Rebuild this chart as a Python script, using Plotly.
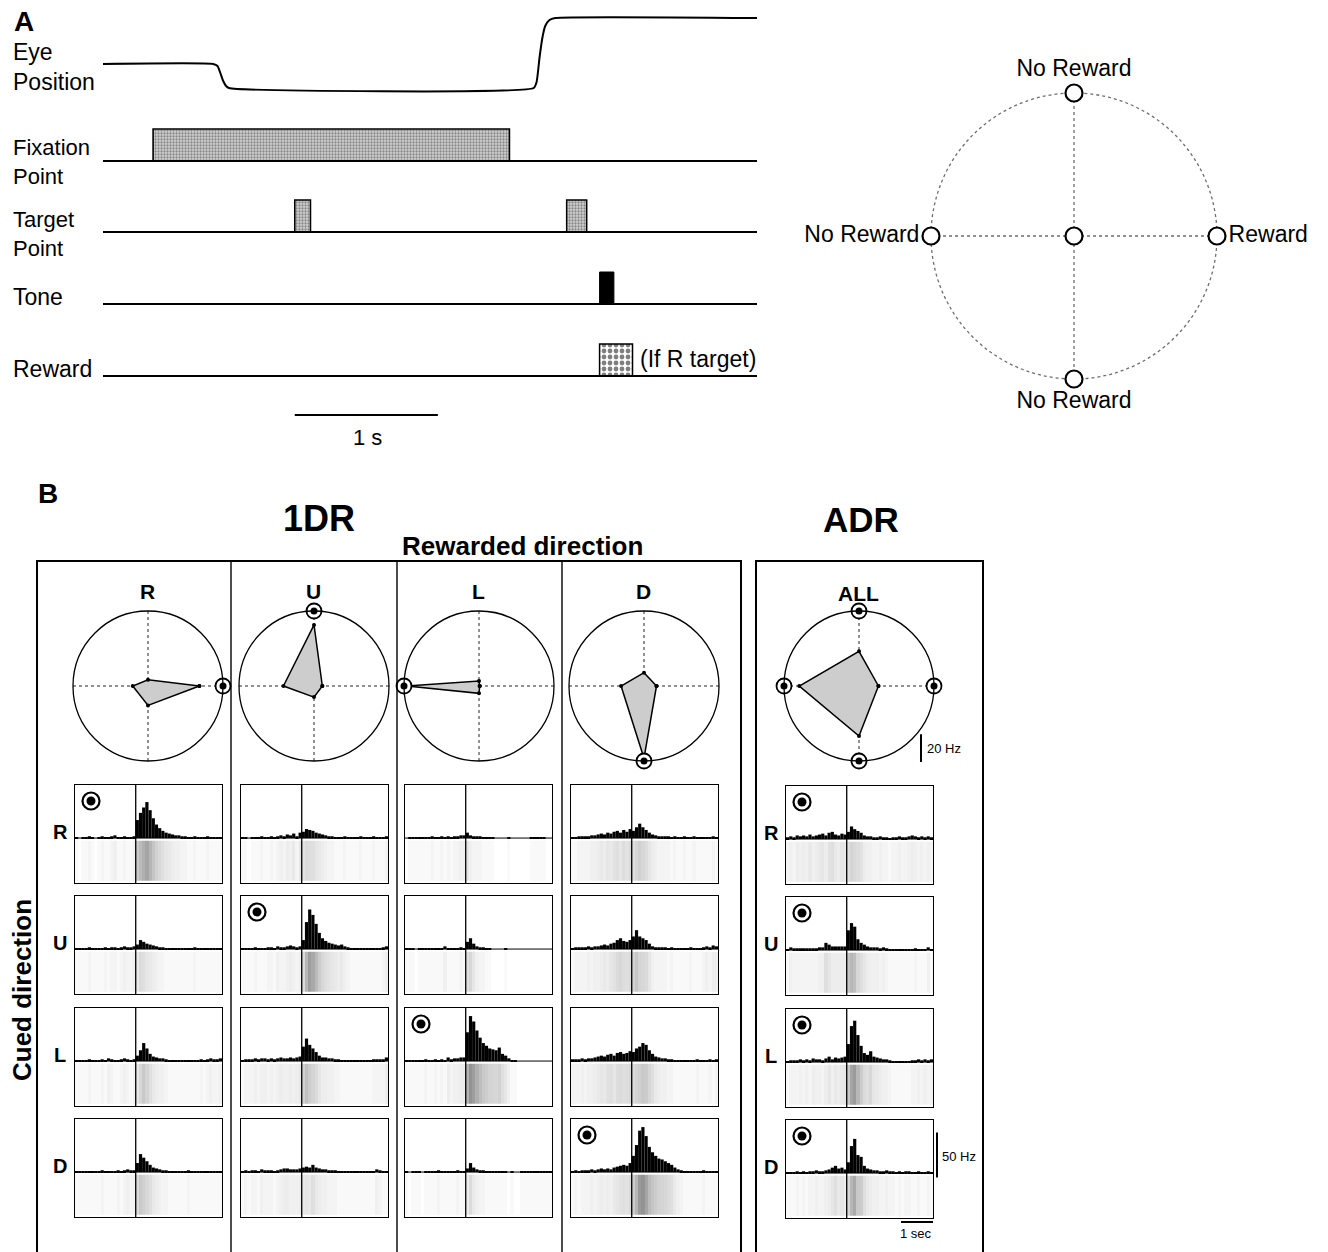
import numpy as np
import plotly.graph_objects as go

W, H = 1328, 1252
FONT = "Liberation Sans, Arial, Helvetica, sans-serif"

# ===================== DATA =====================
# ---- Panel A: task events (seconds from start of trace) ----
trace_end = 4.57
fix_on, fix_off = 0.35, 2.84
target_on = [1.34, 3.24]
target_dur = [0.11, 0.14]
tone_on, tone_dur = 3.47, 0.10
reward_on, reward_dur = 3.47, 0.23
eye_t = [0.0, 0.77, 0.80, 0.82, 0.84, 0.86, 0.88, 3.01, 3.03, 3.05, 3.07, 3.09, 3.12, 3.16, 4.57]
eye_pos = [24, 24, 22, 15, 7, 2, 0, 0, 6, 30, 50, 62, 68, 70, 70]
scale_bar_s = 1.0
scale_bar_start = 1.34

# ---- Panel A right: target layout ----
target_x = [1, 0, -1, 0, 0]
target_y = [0, 1, 0, -1, 0]
target_labels = ["Reward", "No Reward", "No Reward", "No Reward", ""]
target_textpos = ["middle right", "top center", "middle left", "bottom center", "middle center"]

# ---- Panel B ----
directions = ["R", "U", "L", "D"]
theta_deg = [0, 90, 180, 270]
radar_r_max = 54  # Hz at circle edge
# radar values (Hz) for cued directions R, U, L, D
radar_R = [37, 4.5, 11, 14]
radar_U = [6, 44, 22, 8]
radar_L = [0.5, 3.6, 52, 5.3]
radar_D = [9, 9.6, 16.5, 52]
radar_ALL = [14, 25, 43, 36]

bin_start, bin_width, n_bins = -1.9, 0.1, 46

# histograms (Hz), name = h<cued>_<rewarded>;  A = all-directions-rewarded (ADR)
hR_R = [1,0,1,1,2,1,0,1,2,1,1,2,3,1,1,2,1,1,2] + [20,28,34,40,31,22,15,11,8,6,5,4,3,3,2,2,1,1,2,1,1,1,2,1,1,1,1]
hR_U = [1,1,0,1,1,1,2,1,1,2,1,2,3,2,4,3,5,2,6] + [7,10,9,8,6,5,4,3,2,2,1,1,1,2,1,1,1,1,2,1,1,1,2,1,1,1,2]
hR_L = [0,1,1,1,1,1,1,1,2,1,1,2,1,2,1,2,2,3,3] + [6,3,2,2,2,1,1,1,1,0,0,0,0,1,0,0,0,0,0,0,1,1,1,1,1,0,0]
hR_D = [1,1,2,2,2,2,3,3,4,5,4,6,5,7,8,6,9,7,10] + [8,12,16,12,9,6,4,3,2,2,2,2,1,2,1,1,2,1,1,2,1,1,1,1,1,2,1]
hU_R = [1,1,1,1,2,1,1,1,1,2,1,2,2,1,2,3,2,2,3] + [5,10,8,6,5,4,3,2,2,1,1,1,1,1,1,1,1,1,2,1,1,1,1,1,1,1,1]
hU_U = [1,1,1,1,2,1,1,1,2,2,1,3,2,2,3,4,3,2,3] + [10,30,44,38,28,18,12,9,7,6,5,4,5,3,2,1,1,1,1,1,1,1,1,1,1,2,3]
hU_L = [1,1,1,0,1,1,1,1,1,1,1,1,3,1,1,1,1,2,1] + [8,12,6,3,2,2,1,1,0,0,0,0,1,0,0,0,0,0,0,0,0,0,0,0,0,0,0]
hU_D = [1,2,2,2,2,3,2,3,3,4,5,4,6,7,10,12,9,8,10] + [14,21,14,12,10,6,3,2,2,2,2,1,2,1,1,1,1,1,2,1,1,1,2,3,2,4,3]
hL_R = [1,1,1,1,2,1,1,1,2,1,3,2,1,1,2,3,2,1,2] + [6,12,20,14,8,5,4,3,3,2,1,1,1,1,1,1,1,1,1,1,2,1,2,3,2,2,3]
hL_U = [1,2,2,2,3,2,3,3,2,3,2,3,4,3,3,4,3,4,5] + [16,25,18,14,10,6,4,4,3,3,2,2,1,1,1,1,1,1,1,1,1,1,2,2,2,2,4]
hL_L = [1,1,1,1,1,1,2,1,1,2,1,2,1,4,2,3,3,4,4] + [32,50,44,34,26,20,17,14,13,12,15,8,6,3,1,1,0,0,0,0,0,0,0,0,0,0,0]
hL_D = [2,2,2,3,2,3,3,4,5,6,5,7,8,6,9,10,8,9,11] + [10,14,16,20,18,12,8,5,4,3,3,2,2,1,1,1,1,1,1,1,2,1,1,1,2,1,2]
hD_R = [1,1,1,1,1,1,1,1,2,1,1,1,1,2,1,2,3,2,2] + [10,20,16,12,8,5,4,3,2,2,1,1,1,1,1,1,2,1,1,1,1,1,1,1,1,1,1]
hD_U = [1,2,1,2,2,1,3,2,2,2,1,2,3,4,4,3,3,3,4] + [5,6,5,8,5,4,3,3,2,2,2,1,1,1,1,1,1,1,1,1,1,1,1,3,2,1,1]
hD_L = [1,0,1,1,1,0,1,1,1,1,2,1,1,1,1,1,2,1,1] + [4,10,5,3,2,2,1,1,1,1,1,1,1,0,1,0,0,1,1,1,1,1,1,1,1,1,1]
hD_D = [1,2,1,2,2,2,3,2,3,4,3,4,3,5,6,7,8,7,10] + [18,30,46,50,40,28,22,18,15,14,12,10,8,5,3,2,1,1,1,1,1,1,2,1,1,1,1]
hR_A = [2,3,2,4,3,4,3,5,3,4,5,6,4,7,8,5,4,6,5] + [8,14,11,9,7,4,3,3,2,2,3,2,2,1,2,2,3,2,2,3,4,3,2,3,2,3,2]
hU_A = [1,3,2,2,2,2,2,2,2,2,3,3,8,6,4,4,4,4,4] + [22,30,26,12,8,6,4,3,3,3,2,3,2,1,1,1,1,1,1,1,1,2,1,1,1,3,1]
hL_A = [1,2,2,2,3,2,3,2,4,3,3,2,4,6,3,5,4,5,6] + [20,40,46,30,18,10,8,12,6,5,4,3,3,2,1,1,1,1,1,1,2,2,3,2,3,2,3]
hD_A = [1,1,1,2,1,2,1,2,2,3,2,2,3,4,6,8,5,6,4] + [12,30,38,20,18,8,5,4,3,3,2,2,3,2,2,1,2,1,2,2,1,1,2,1,1,2,1]

scale_rate_hz = 50
scale_time_s = 1.0
scale_polar_hz = 20

# ===================== ASSEMBLY =====================
hists = {
    "R": {"R": hR_R, "U": hU_R, "L": hL_R, "D": hD_R},
    "U": {"R": hR_U, "U": hU_U, "L": hL_U, "D": hD_U},
    "L": {"R": hR_L, "U": hU_L, "L": hL_L, "D": hD_L},
    "D": {"R": hR_D, "U": hU_D, "L": hL_D, "D": hD_D},
    "ALL": {"R": hR_A, "U": hU_A, "L": hL_A, "D": hD_A},
}
radars = {"R": radar_R, "U": radar_U, "L": radar_L, "D": radar_D, "ALL": radar_ALL}
reward_dirs = {"R": ["R"], "U": ["U"], "L": ["L"], "D": ["D"], "ALL": ["R", "U", "L", "D"]}
columns = ["R", "U", "L", "D", "ALL"]
dir_theta = dict(zip(directions, theta_deg))

edges = bin_start + bin_width * np.arange(n_bins + 1)
centers = edges[:-1] + bin_width / 2


def pxx(p):
    return p / W


def pxy(p):
    return 1 - p / H


fig = go.Figure()
shapes, annotations = [], []
layout = dict(width=W, height=H, margin=dict(l=0, r=0, t=0, b=0), paper_bgcolor="white",
              plot_bgcolor="white", showlegend=False, barmode="overlay",
              font=dict(family=FONT, color="black"))


def txt(x, y, s, size, bold=False, xanchor="center", angle=0):
    annotations.append(dict(x=pxx(x), y=pxy(y), xref="paper", yref="paper", text=f"<b>{s}</b>" if bold else s,
                            showarrow=False, xanchor=xanchor, yanchor="middle", textangle=angle, align="left",
                            font=dict(size=size, family=FONT, color="black")))


def pline(x0, y0, x1, y1, w=1.5, color="black"):
    shapes.append(dict(type="line", xref="paper", yref="paper", x0=pxx(x0), y0=pxy(y0), x1=pxx(x1), y1=pxy(y1),
                       line=dict(color=color, width=w), layer="above"))


# ---------- Panel A: timing ----------
A_row = dict(eye_low=88, fix=161, target=232, tone=304, reward=376, pulse=32, bar=415)
layout["xaxis"] = dict(domain=[pxx(103), pxx(757)], range=[0, trace_end], visible=False, fixedrange=True)
layout["yaxis"] = dict(domain=[pxy(450), pxy(0)], range=[-450, 0], visible=False, fixedrange=True)

for key in ["fix", "target", "tone", "reward"]:
    shapes.append(dict(type="line", xref="x", yref="y", x0=0, x1=trace_end, y0=-A_row[key], y1=-A_row[key],
                       line=dict(color="black", width=2)))

fig.add_trace(go.Scatter(x=eye_t, y=[-A_row["eye_low"] + p for p in eye_pos], mode="lines",
                         line=dict(color="black", width=2, shape="spline", smoothing=0.5),
                         xaxis="x", yaxis="y", cliponaxis=False))

stipple = dict(shape=".", fgcolor="#3c3c3c", bgcolor="#d2d2d2", size=3, solidity=0.45)
fig.add_trace(go.Bar(x=[(fix_on + fix_off) / 2], y=[A_row["pulse"]], base=[-A_row["fix"]], width=[fix_off - fix_on],
                     marker=dict(color="#b0b0b0", line=dict(color="black", width=1.6), pattern=stipple),
                     xaxis="x", yaxis="y"))
fig.add_trace(go.Bar(x=[t + d / 2 for t, d in zip(target_on, target_dur)], y=[A_row["pulse"]] * len(target_on),
                     base=[-A_row["target"]] * len(target_on), width=target_dur,
                     marker=dict(color="#b0b0b0", line=dict(color="black", width=1.5), pattern=stipple),
                     xaxis="x", yaxis="y"))
fig.add_trace(go.Bar(x=[tone_on + tone_dur / 2], y=[A_row["pulse"]], base=[-A_row["tone"]], width=[tone_dur],
                     marker=dict(color="black", line=dict(color="black", width=1)), xaxis="x", yaxis="y"))
fig.add_trace(go.Bar(x=[reward_on + reward_dur / 2], y=[A_row["pulse"]], base=[-A_row["reward"]], width=[reward_dur],
                     marker=dict(color="white", line=dict(color="black", width=1.5),
                                 pattern=dict(shape=".", fgcolor="black", bgcolor="white", size=6, solidity=0.5)),
                     xaxis="x", yaxis="y"))
fig.add_trace(go.Scatter(x=[scale_bar_start, scale_bar_start + scale_bar_s], y=[-A_row["bar"]] * 2, mode="lines",
                         line=dict(color="black", width=2), xaxis="x", yaxis="y"))

txt(12, 22, "A", 28, bold=True, xanchor="left")
for s, y, fs in [("Eye<br>Position", 67, 23), ("Fixation<br>Point", 162, 22), ("Target<br>Point", 234, 22),
                 ("Tone", 297, 23), ("Reward", 369, 23)]:
    txt(11, y, s, fs, xanchor="left")
txt(638, 359, "(If R target)", 23, xanchor="left")
txt(367, 437, "1 s", 22)

# ---------- Panel A right: target layout ----------
cx, cy, rad = 1074, 236, 143
span = 1.1
layout["xaxis2"] = dict(domain=[pxx(cx - span * rad), pxx(cx + span * rad)], range=[-span, span], visible=False)
layout["yaxis2"] = dict(domain=[pxy(cy + span * rad), pxy(cy - span * rad)], range=[-span, span], visible=False)
dot_style = dict(color="#6e6e6e", width=1.3, dash="dot")
shapes.append(dict(type="circle", xref="x2", yref="y2", x0=-1, x1=1, y0=-1, y1=1, line=dot_style, layer="below"))
shapes.append(dict(type="line", xref="x2", yref="y2", x0=min(target_x), x1=max(target_x), y0=0, y1=0,
                   line=dot_style, layer="below"))
shapes.append(dict(type="line", xref="x2", yref="y2", x0=0, x1=0, y0=min(target_y), y1=max(target_y),
                   line=dot_style, layer="below"))
fig.add_trace(go.Scatter(x=target_x, y=target_y, mode="markers+text", text=target_labels, textposition=target_textpos,
                         textfont=dict(size=23, family=FONT, color="black"),
                         marker=dict(symbol="circle", size=17, color="white", line=dict(color="black", width=2.2)),
                         xaxis="x2", yaxis="y2", cliponaxis=False))

# ---------- Panel B headers & frames ----------
txt(36, 493, "B", 28, bold=True, xanchor="left")
txt(319, 518, "1DR", 36, bold=True)
txt(861, 519, "ADR", 35, bold=True)
txt(522, 546, "Rewarded direction", 26, bold=True)
txt(22, 990, "Cued direction", 26, bold=True, angle=-90)

pline(36, 561, 742, 561, 2)
pline(37, 560, 37, H, 2)
pline(741, 560, 741, H, 2)
for xs in [231, 397, 562]:
    pline(xs, 561, xs, H, 1.4)
pline(755, 561, 984, 561, 2)
pline(756, 560, 756, H, 2)
pline(983, 560, 983, H, 2)

# ---------- Polar tuning plots ----------
col_cx = [148, 314, 479, 644, 859]
polar_cy = 686
polar_R = 75
col_label_y = [591, 591, 591, 591, 593]
for j, col in enumerate(columns):
    key = "polar" if j == 0 else f"polar{j + 1}"
    c = col_cx[j]
    layout[key] = dict(domain=dict(x=[pxx(c - polar_R), pxx(c + polar_R)], y=[pxy(polar_cy + polar_R), pxy(polar_cy - polar_R)]),
                       bgcolor="white",
                       radialaxis=dict(visible=False, range=[0, radar_r_max]),
                       angularaxis=dict(tickvals=theta_deg, showticklabels=False, ticks="", showgrid=True,
                                        gridcolor="#222222", griddash="dot", gridwidth=1, showline=True,
                                        linecolor="black", linewidth=1.3, rotation=0, direction="counterclockwise"))
    vals = radars[col]
    fig.add_trace(go.Scatterpolar(r=vals + [vals[0]], theta=theta_deg + [theta_deg[0]], mode="lines+markers",
                                  fill="toself", fillcolor="#cdcdcd", line=dict(color="black", width=1.5),
                                  marker=dict(size=4, color="black"), subplot=key))
    rth = [dir_theta[d] for d in reward_dirs[col]]
    fig.add_trace(go.Scatterpolar(r=[radar_r_max] * len(rth), theta=rth, mode="markers", cliponaxis=False,
                                  marker=dict(symbol="circle", size=15, color="white", line=dict(color="black", width=1.8)),
                                  subplot=key))
    fig.add_trace(go.Scatterpolar(r=[radar_r_max] * len(rth), theta=rth, mode="markers", cliponaxis=False,
                                  marker=dict(symbol="circle", size=7, color="black"), subplot=key))
    txt(c - 1, col_label_y[j], col, 21, bold=True)

# 20 Hz scale bar (length from the polar radius scale)
bar_len = scale_polar_hz * polar_R / radar_r_max
pline(921, 762, 921, 762 - bar_len, 2)
txt(925, 748, "20 Hz", 13, xanchor="left")

# ---------- Histograms + rasters ----------
col_x = [75, 241, 405, 571, 786]
row_y = {"1DR": [785, 896, 1008, 1119], "ADR": [786, 897, 1009, 1120]}
pw, ph = 147, 98
y_lo, y_hi = -50, 59
raster_lo, raster_hi = -47, -3
ax = 3
panel_px = {}
for j, col in enumerate(columns):
    rows = row_y["ADR" if col == "ALL" else "1DR"]
    for i, cued in enumerate(directions):
        x0, y0 = col_x[j], rows[i]
        xa, ya = f"x{ax}", f"y{ax}"
        panel_px[(col, cued)] = (x0, y0)
        layout[f"xaxis{ax}"] = dict(domain=[pxx(x0), pxx(x0 + pw)], range=[edges[0], edges[-1]], showline=True,
                                    mirror=True, linecolor="black", linewidth=1.2, showticklabels=False, ticks="",
                                    showgrid=False, zeroline=False, anchor=ya, fixedrange=True)
        layout[f"yaxis{ax}"] = dict(domain=[pxy(y0 + ph), pxy(y0)], range=[y_lo, y_hi], showline=True, mirror=True,
                                    linecolor="black", linewidth=1.2, showticklabels=False, ticks="", showgrid=False,
                                    zeroline=False, anchor=xa, fixedrange=True)
        vals = hists[col][cued]
        fig.add_trace(go.Heatmap(x=edges, y=[raster_lo, raster_hi], z=[vals], zmin=0, zmax=55, showscale=False,
                                 colorscale=[[0, "#ffffff"], [0.03, "#f5f5f5"], [0.15, "#dedede"], [1, "#8a8a8a"]],
                                 xaxis=xa, yaxis=ya, hoverinfo="skip"))
        fig.add_trace(go.Bar(x=centers, y=vals, width=bin_width, marker=dict(color="black", line=dict(width=0)),
                             xaxis=xa, yaxis=ya))
        shapes.append(dict(type="line", xref=xa, yref=f"{ya} domain", x0=0, x1=0, y0=0, y1=1,
                           line=dict(color="black", width=1.3), layer="above"))
        shapes.append(dict(type="line", xref=f"{xa} domain", yref=ya, x0=0, x1=1, y0=0, y1=0,
                           line=dict(color="black", width=1), layer="above"))
        if cued in reward_dirs[col]:
            bx, by = x0 + 16, y0 + 16
            shapes.append(dict(type="circle", xref="paper", yref="paper", x0=pxx(bx - 8.5), x1=pxx(bx + 8.5),
                               y0=pxy(by + 8.5), y1=pxy(by - 8.5), line=dict(color="black", width=2.2),
                               fillcolor="white", layer="above"))
            shapes.append(dict(type="circle", xref="paper", yref="paper", x0=pxx(bx - 4.5), x1=pxx(bx + 4.5),
                               y0=pxy(by + 4.5), y1=pxy(by - 4.5), line=dict(color="black", width=0),
                               fillcolor="black", layer="above"))
        if j == 0 or col == "ALL":
            txt(60 if col != "ALL" else 771, y0 + 47, cued, 20, bold=True)
        ax += 1


# data -> page pixels for the ADR/D panel (used for its scale bars)
def panel_x_px(col, cued, t):
    return panel_px[(col, cued)][0] + (t - edges[0]) / (edges[-1] - edges[0]) * pw


def panel_y_px(col, cued, v):
    return panel_px[(col, cued)][1] + (y_hi - v) / (y_hi - y_lo) * ph


# 50 Hz bar to the right of ADR/D panel, 1 sec bar below it
bx = panel_x_px("ALL", "D", edges[-1]) + 4
pline(bx, panel_y_px("ALL", "D", -5), bx, panel_y_px("ALL", "D", -5 + scale_rate_hz), 2)
txt(bx + 3, 1156, "50 Hz", 13, xanchor="left")
yb = panel_y_px("ALL", "D", y_lo) + 4
pline(panel_x_px("ALL", "D", edges[-1] - scale_time_s), yb, panel_x_px("ALL", "D", edges[-1]), yb, 2)
txt(916, 1233, "1 sec", 13)

layout["shapes"] = shapes
layout["annotations"] = annotations
fig.update_layout(**layout)
fig.write_html("out.html", config={"displayModeBar": False},
               post_script="document.body.style.margin='0';")
